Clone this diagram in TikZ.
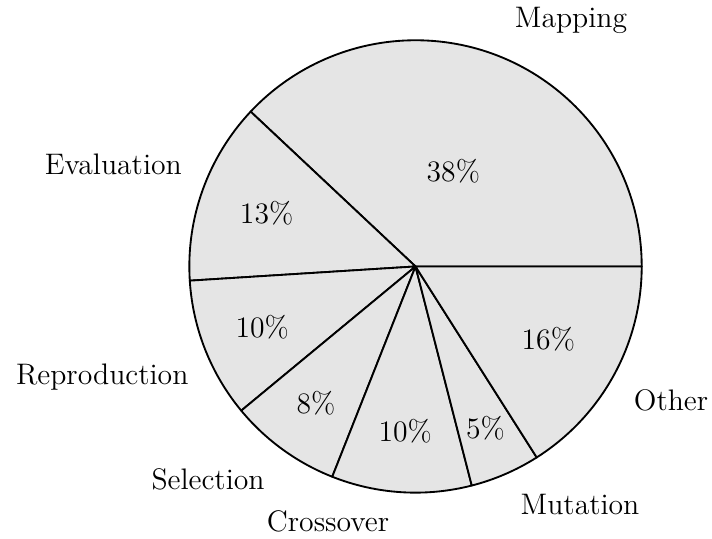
\documentclass[tikz,border=0pt]{standalone}
\begin{document}
\begin{tikzpicture}[
    slice/.style={draw=black, line width=0.7pt, line join=round, fill=black!10},
    pct/.style={inner sep=0pt, font=\fontsize{11.2}{13.4}\selectfont},
    lbl/.style={inner sep=0pt, anchor=base, font=\fontsize{11.2}{13.4}\selectfont}
  ]
  % canvas
  \useasboundingbox (-5.511,-3.614) rectangle (3.932,3.534);
  \coordinate (O) at (0,0);
  \def\R{3}

  % slices, counter-clockwise from 0 degrees
  \draw[slice] (O) -- (0:\R)     arc[start angle=0,     end angle=136.8, radius=\R] -- cycle;
  \draw[slice] (O) -- (136.8:\R) arc[start angle=136.8, end angle=183.6, radius=\R] -- cycle;
  \draw[slice] (O) -- (183.6:\R) arc[start angle=183.6, end angle=219.6, radius=\R] -- cycle;
  \draw[slice] (O) -- (219.6:\R) arc[start angle=219.6, end angle=248.4, radius=\R] -- cycle;
  \draw[slice] (O) -- (248.4:\R) arc[start angle=248.4, end angle=284.4, radius=\R] -- cycle;
  \draw[slice] (O) -- (284.4:\R) arc[start angle=284.4, end angle=302.4, radius=\R] -- cycle;
  \draw[slice] (O) -- (302.4:\R) arc[start angle=302.4, end angle=360,   radius=\R] -- cycle;

  % shares inside the slices
  \node[pct] (p-map) at (68.4:1.3625)  {38\%};
  \node[pct] (p-eva) at (160.2:2.0989) {13\%};
  \node[pct] (p-rep) at (201.6:2.1873) {10\%};
  \node[pct] (p-sel) at (234.0:2.2462) {8\%};
  \node[pct] (p-cro) at (266.4:2.1873) {10\%};
  \node[pct] (p-mut) at (293.4:2.3345) {5\%};
  \node[pct] (p-oth) at (331.2:2.0105) {16\%};

  % slice names outside the circle
  \node[lbl] (l-map) at (2.062,3.163)   {Mapping};
  \node[lbl] (l-eva) at (-4.008,1.223)  {Evaluation};
  \node[lbl] (l-rep) at (-4.155,-1.568) {Reproduction};
  \node[lbl] (l-sel) at (-2.752,-2.955) {Selection};
  \node[lbl] (l-cro) at (-1.160,-3.521) {Crossover};
  \node[lbl] (l-mut) at (2.182,-3.295)  {Mutation};
  \node[lbl] (l-oth) at (3.389,-1.915)  {Other};
\end{tikzpicture}
\end{document}
